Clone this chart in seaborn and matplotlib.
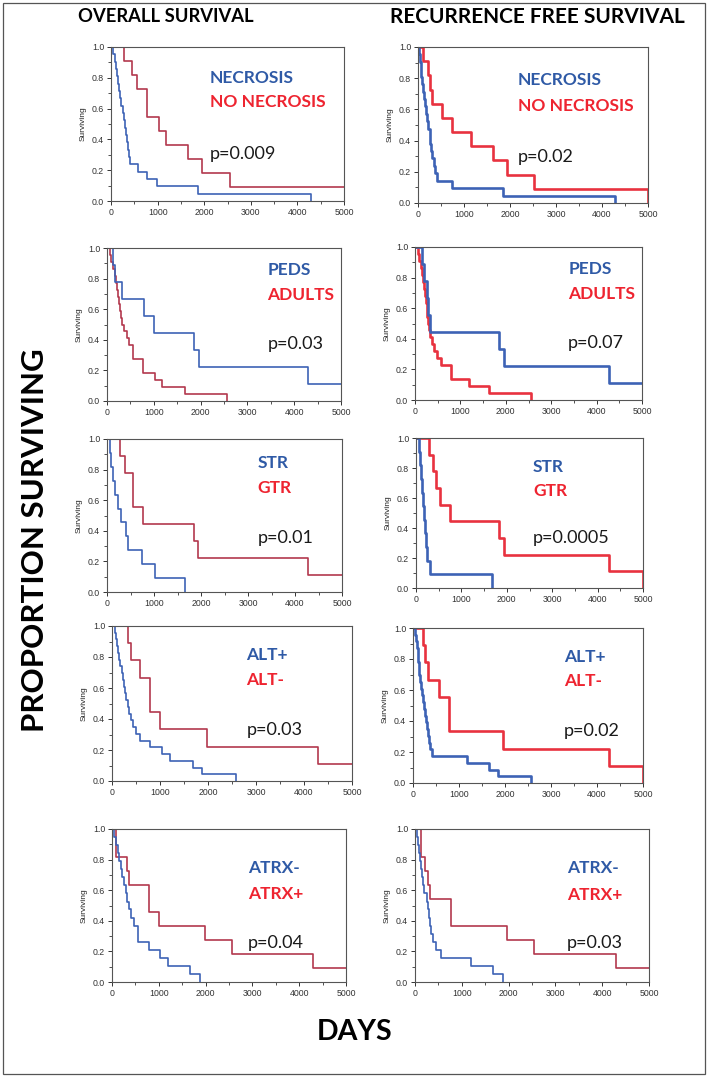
import matplotlib
matplotlib.use('Agg')
import matplotlib.pyplot as plt
from matplotlib.patches import Rectangle
from matplotlib.ticker import MultipleLocator
import seaborn as sns

# --- curve data (days, proportion surviving) ---
# row 1: necrosis
os_necrosis_t = [0, 50, 80, 100, 130, 150, 180, 200, 220, 250, 280, 300, 320, 340, 370, 390, 410, 570, 770, 990, 1860, 4290]
os_necrosis_s = [1.0, .952, .905, .857, .810, .762, .714, .667, .619, .571, .524, .476, .429, .381, .333, .286, .238, .190, .143, .095, .048, 0.0]
os_nonecrosis_t = [0, 270, 450, 560, 770, 1040, 1190, 1660, 1950, 2560, 5000]
os_nonecrosis_s = [1.0, .909, .818, .727, .545, .455, .364, .273, .182, .091, .091]
rfs_necrosis_t = [0, 30, 45, 60, 75, 90, 110, 130, 150, 175, 195, 220, 250, 270, 290, 310, 340, 360, 410, 740, 1840, 4280]
rfs_necrosis_s = [1.0, .952, .905, .857, .810, .762, .714, .667, .619, .571, .524, .476, .429, .381, .333, .286, .238, .190, .143, .095, .048, 0.0]
rfs_nonecrosis_t = [0, 100, 210, 270, 300, 520, 740, 1150, 1640, 1930, 2530, 5000, 5000]
rfs_nonecrosis_s = [1.0, .909, .818, .727, .636, .545, .455, .364, .273, .182, .091, .091, 0.0]

# row 2: peds / adults
os_peds_t = [0, 120, 180, 320, 780, 1000, 1860, 1960, 4290, 5000]
os_peds_s = [1.0, .889, .778, .667, .556, .444, .333, .222, .111, .111]
os_adults_t = [0, 60, 90, 120, 165, 190, 220, 245, 265, 285, 305, 330, 370, 427, 463, 555, 770, 1030, 1170, 1670, 2560]
os_adults_s = [1.0, .955, .909, .864, .818, .773, .727, .682, .636, .591, .545, .500, .455, .409, .364, .273, .182, .136, .091, .045, 0.0]
rfs_peds_t = [0, 150, 205, 255, 290, 330, 1855, 1960, 4270, 5000]
rfs_peds_s = [1.0, .889, .778, .667, .556, .444, .333, .222, .111, .111]
rfs_adults_t = [0, 60, 95, 130, 155, 183, 200, 220, 240, 257, 275, 293, 310, 330, 370, 420, 475, 565, 785, 1195, 1635, 2565]
rfs_adults_s = [1.0, .955, .909, .864, .818, .773, .727, .682, .636, .591, .545, .500, .455, .409, .364, .318, .273, .227, .136, .091, .045, 0.0]

# row 3: STR / GTR
os_str_t = [0, 60, 90, 130, 180, 235, 290, 400, 450, 755, 1030, 1670]
os_str_s = [1.0, .909, .818, .727, .636, .545, .455, .364, .273, .182, .091, 0.0]
os_gtr_t = [0, 285, 375, 555, 770, 1855, 1940, 4275, 5000]
os_gtr_s = [1.0, .889, .778, .556, .444, .333, .222, .111, .111]
rfs_str_t = [0, 75, 95, 115, 130, 145, 170, 205, 220, 240, 315, 1675]
rfs_str_s = [1.0, .909, .818, .727, .636, .545, .455, .364, .273, .182, .091, 0.0]
rfs_gtr_t = [0, 280, 375, 440, 535, 755, 1835, 1945, 4260, 5000, 5000]
rfs_gtr_s = [1.0, .889, .778, .667, .556, .444, .333, .222, .111, .111, 0.0]

# row 4: ALT+ / ALT-
os_altpos_t = [0, 55, 80, 100, 125, 150, 175, 200, 225, 250, 275, 300, 330, 360, 390, 430, 495, 578, 787, 1051, 1205, 1678, 1866, 2577]
os_altpos_s = [1.0, .957, .913, .870, .826, .783, .739, .696, .652, .609, .565, .522, .478, .435, .391, .348, .304, .261, .217, .174, .130, .087, .043, 0.0]
os_altneg_t = [0, 335, 390, 590, 800, 1010, 1970, 4283, 5000]
os_altneg_s = [1.0, .889, .778, .667, .444, .333, .222, .111, .111]
rfs_altpos_t = [0, 40, 60, 80, 100, 110, 125, 140, 160, 180, 200, 220, 240, 255, 275, 300, 320, 345, 365, 420, 1165, 1650, 1840, 2565]
rfs_altpos_s = [1.0, .957, .913, .870, .826, .783, .739, .696, .652, .609, .565, .522, .478, .435, .391, .348, .304, .261, .217, .174, .130, .087, .043, 0.0]
rfs_altneg_t = [0, 220, 270, 325, 560, 780, 1960, 4265, 5000, 5000]
rfs_altneg_s = [1.0, .889, .778, .667, .556, .333, .222, .111, .111, 0.0]

# row 5: ATRX- / ATRX+
os_atrxneg_t = [0, 50, 90, 130, 150, 190, 220, 260, 300, 330, 360, 410, 460, 548, 782, 1017, 1195, 1672, 1870]
os_atrxneg_s = [1.0, .947, .895, .842, .789, .737, .684, .632, .579, .526, .474, .421, .368, .263, .211, .158, .105, .053, 0.0]
os_atrxpos_t = [0, 92, 320, 356, 782, 995, 1977, 2560, 4300, 5000]
os_atrxpos_s = [1.0, .818, .727, .636, .455, .364, .273, .182, .091, .091]
rfs_atrxneg_t = [0, 40, 60, 80, 100, 125, 150, 180, 200, 250, 280, 300, 320, 341, 391, 441, 548, 1195, 1672, 1870]
rfs_atrxneg_s = [1.0, .947, .895, .842, .789, .737, .684, .632, .579, .526, .474, .421, .368, .316, .263, .211, .158, .105, .053, 0.0]
rfs_atrxpos_t = [0, 120, 213, 284, 320, 768, 1956, 2546, 4289, 5000]
rfs_atrxpos_s = [1.0, .818, .727, .636, .545, .364, .273, .182, .091, .091]

group_blue = ['NECROSIS', 'PEDS', 'STR', 'ALT+', 'ATRX-']
group_red = ['NO NECROSIS', 'ADULTS', 'GTR', 'ALT-', 'ATRX+']
p_os = ['p=0.009', 'p=0.03', 'p=0.01', 'p=0.03', 'p=0.04']
p_rfs = ['p=0.02', 'p=0.07', 'p=0.0005', 'p=0.02', 'p=0.03']

W, H = 709, 1077
BLUE = '#3D62B5'
RED_OS = '#B3384E'
RED_RFS = '#E8323F'
TXT_BLUE = '#2F5AA6'
TXT_RED = '#EE2430'
LABEL_FONT = ['Lato', 'DejaVu Sans']

sns.set_theme(style='ticks')
plt.rcParams['font.family'] = ['Liberation Sans', 'DejaVu Sans']

fig = plt.figure(figsize=(W / 100, H / 100), dpi=100)
fig.patch.set_facecolor('white')
fig.add_artist(Rectangle((3 / W, 3 / H), 702 / W, 1071 / H, transform=fig.transFigure,
                         fill=False, edgecolor='#555555', lw=0.9))

# panel pixel boxes (left, top, right, bottom), label/p positions in axes fraction
panels = [
    # (box, blue curve, red curve, red colour, lw, label x, y blue, y red, y p, group, p list)
    ((111, 47, 344, 201), (os_necrosis_t, os_necrosis_s), (os_nonecrosis_t, os_nonecrosis_s), RED_OS, 1.2, 0.425, 0.80, 0.64, 0.305, 0, p_os),
    ((418, 47, 648, 203), (rfs_necrosis_t, rfs_necrosis_s), (rfs_nonecrosis_t, rfs_nonecrosis_s), RED_RFS, 1.9, 0.435, 0.79, 0.62, 0.297, 0, p_rfs),
    ((107, 248, 341, 401), (os_peds_t, os_peds_s), (os_adults_t, os_adults_s), RED_OS, 1.2, 0.685, 0.856, 0.69, 0.37, 1, p_os),
    ((415, 247, 642, 400), (rfs_peds_t, rfs_peds_s), (rfs_adults_t, rfs_adults_s), RED_RFS, 1.9, 0.675, 0.855, 0.69, 0.37, 1, p_rfs),
    ((107, 439, 342, 592), (os_str_t, os_str_s), (os_gtr_t, os_gtr_s), RED_OS, 1.2, 0.64, 0.84, 0.68, 0.35, 2, p_os),
    ((416, 438, 643, 588), (rfs_str_t, rfs_str_s), (rfs_gtr_t, rfs_gtr_s), RED_RFS, 1.9, 0.515, 0.81, 0.65, 0.33, 2, p_rfs),
    ((112, 626, 352, 781), (os_altpos_t, os_altpos_s), (os_altneg_t, os_altneg_s), RED_OS, 1.2, 0.56, 0.81, 0.65, 0.33, 3, p_os),
    ((413, 628, 643, 783), (rfs_altpos_t, rfs_altpos_s), (rfs_altneg_t, rfs_altneg_s), RED_RFS, 1.9, 0.655, 0.81, 0.66, 0.335, 3, p_rfs),
    ((112, 829, 346, 982), (os_atrxneg_t, os_atrxneg_s), (os_atrxpos_t, os_atrxpos_s), RED_OS, 1.2, 0.58, 0.745, 0.575, 0.255, 4, p_os),
    ((415, 829, 649, 982), (rfs_atrxneg_t, rfs_atrxneg_s), (rfs_atrxpos_t, rfs_atrxpos_s), RED_OS, 1.2, 0.65, 0.745, 0.57, 0.255, 4, p_rfs),
]

for box, blue, red, red_col, lw, lx, yb, yr, yp, gi, pvals in panels:
    l, t, r, b = box
    ax = fig.add_axes([l / W, 1 - b / H, (r - l) / W, (b - t) / H])
    sns.lineplot(x=red[0], y=red[1], ax=ax, color=red_col, lw=lw, drawstyle='steps-post',
                 estimator=None, sort=False)
    sns.lineplot(x=blue[0], y=blue[1], ax=ax, color=BLUE, lw=lw, drawstyle='steps-post',
                 estimator=None, sort=False)
    ax.set_xlim(0, 5000)
    ax.set_ylim(0, 1.0)
    ax.xaxis.set_major_locator(MultipleLocator(1000))
    ax.xaxis.set_minor_locator(MultipleLocator(500))
    ax.yaxis.set_major_locator(MultipleLocator(0.2))
    ax.yaxis.set_minor_locator(MultipleLocator(0.1))
    ax.yaxis.set_major_formatter(plt.FuncFormatter(lambda v, _: f'{v:.1f}'))
    ax.tick_params(which='major', direction='out', length=3, width=0.7, labelsize=6.3,
                   colors='#333333', pad=2)
    ax.tick_params(which='minor', direction='out', length=2, width=0.6, colors='#333333')
    for sp in ax.spines.values():
        sp.set_color('#555555')
        sp.set_linewidth(0.8)
    ax.set_ylabel('Surviving', fontsize=6, color='#222222', labelpad=4)
    ax.set_xlabel('')

    ax.text(lx, yb, group_blue[gi], transform=ax.transAxes, ha='left', va='center',
            fontsize=12.5, fontweight='bold', color=TXT_BLUE, family=LABEL_FONT)
    ax.text(lx, yr, group_red[gi], transform=ax.transAxes, ha='left', va='center',
            fontsize=12.5, fontweight='bold', color=TXT_RED, family=LABEL_FONT)
    ax.text(lx, yp, pvals[gi], transform=ax.transAxes, ha='left', va='center',
            fontsize=13, color='#1a1a1a', family=LABEL_FONT)

# column titles and shared labels
fig.text(166 / W, 1 - 17 / H, 'OVERALL SURVIVAL', ha='center', va='center',
         fontsize=13.2, fontweight='bold', color='black', family=LABEL_FONT)
fig.text(537 / W, 1 - 17 / H, 'RECURRENCE FREE SURVIVAL', ha='center', va='center',
         fontsize=15, fontweight='bold', color='black', family=LABEL_FONT)
fig.text(35 / W, 1 - 540 / H, 'PROPORTION SURVIVING', ha='center', va='center', rotation=90,
         fontsize=22.5, fontweight='bold', color='black', family=LABEL_FONT)
fig.text(355 / W, 1 - 1032 / H, 'DAYS', ha='center', va='center',
         fontsize=20.5, fontweight='bold', color='black', family=LABEL_FONT)

fig.savefig('out.png', dpi=100)
